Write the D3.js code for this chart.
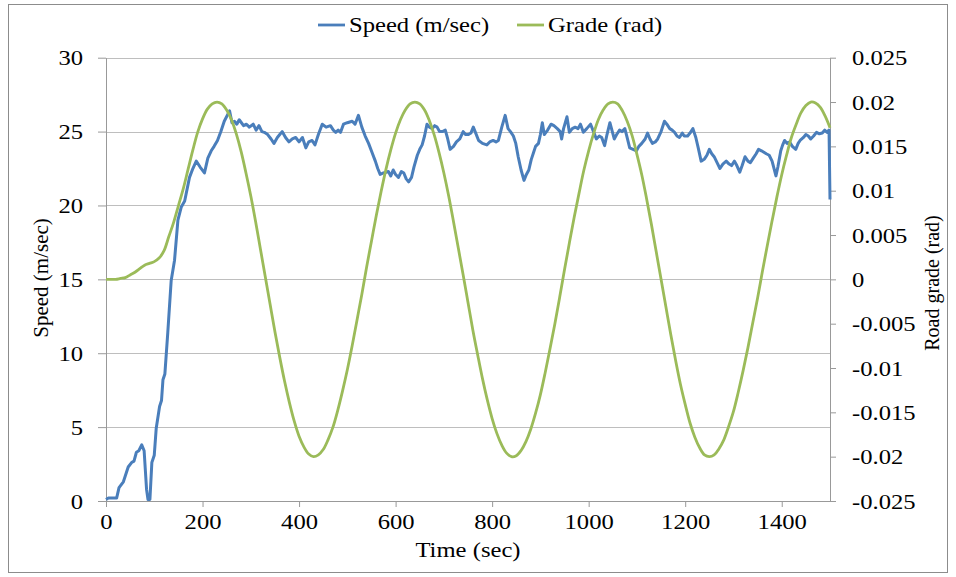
<!DOCTYPE html>
<html><head><meta charset="utf-8">
<script src="https://cdn.jsdelivr.net/npm/d3@7"></script>
<style>
html,body{margin:0;padding:0;background:#fff;}
svg text{font-family:"Liberation Serif","Times New Roman",serif;fill:#000;}
.sx{transform-box:fill-box;transform:scaleX(1.12);}
.sx.end{transform-origin:right center;}
.sx.mid{transform-origin:center center;}
.sx.start{transform-origin:left center;}
</style></head><body>
<svg id="c" width="956" height="577"></svg>
<script>
// ---- data ----
const speedTime = [0,5,12,22,27,36,46,53,58,63,68,74,79,84,87,91,95,100,104,111,115,118,122,128,135,142,149,156,163,173,180,187,195,204,211,218,224,231,238,245,256,261,266,271,276,285,291,297,305,311,317,323,328,335,342,348,355,360,365,372,379,386,393,400,407,414,420,427,433,440,448,456,465,471,476,481,486,492,500,510,516,523,530,537,544,551,558,563,568,575,585,590,595,600,606,612,617,622,627,633,638,645,650,655,660,665,670,676,681,686,691,697,703,708,713,720,726,733,740,745,751,756,761,766,772,780,789,795,802,808,813,820,827,833,838,844,849,854,860,866,871,876,881,886,890,896,900,904,908,915,922,928,935,941,944,948,955,960,966,972,978,983,989,996,1004,1010,1016,1022,1027,1033,1038,1044,1049,1053,1058,1064,1069,1075,1079,1085,1092,1099,1104,1110,1117,1122,1127,1132,1138,1143,1150,1157,1162,1168,1173,1178,1183,1188,1194,1198,1205,1210,1216,1222,1227,1233,1240,1245,1250,1255,1260,1266,1272,1278,1285,1291,1296,1302,1307,1313,1318,1324,1330,1335,1341,1347,1352,1358,1363,1368,1374,1380,1388,1392,1398,1402,1406,1411,1416,1422,1429,1434,1438,1445,1450,1455,1460,1466,1472,1478,1484,1489,1494,1498,1500];
const speedVals = [0.1,0.2,0.2,0.2,0.9,1.3,2.3,2.6,2.7,3.3,3.4,3.8,3.4,0.8,0.1,0.1,2.6,3.1,4.9,6.4,6.8,8.2,8.6,11.4,14.9,16.3,19.0,19.9,20.3,21.9,22.5,23.0,22.6,22.2,23.2,23.7,24.0,24.4,25.0,25.7,26.4,25.6,25.7,25.5,25.8,25.4,25.5,25.3,25.5,25.1,25.4,25.0,24.95,24.8,24.5,24.2,24.6,24.8,25.0,24.6,24.3,24.5,24.6,24.3,24.6,23.9,24.3,24.4,24.1,24.8,25.5,25.3,25.4,25.1,24.95,25.1,24.95,25.5,25.6,25.7,25.5,26.1,25.3,24.7,24.2,23.6,23.0,22.5,22.1,22.2,22.3,22.0,22.4,22.1,21.9,22.3,22.2,21.8,21.6,21.9,22.6,23.4,23.8,24.1,24.7,25.5,25.3,25.2,25.4,25.3,25.0,25.0,25.1,24.5,23.8,24.0,24.3,24.5,25.0,24.8,24.8,24.9,25.3,24.9,24.4,24.2,24.1,24.3,24.4,24.3,24.4,25.3,26.1,25.2,25.0,24.7,24.2,23.3,22.4,21.7,22.1,22.4,23.1,23.6,24.0,24.2,24.8,25.6,24.8,25.1,25.5,25.4,25.2,25.0,24.5,25.2,26.0,24.95,25.2,25.3,25.2,25.5,24.95,25.2,25.5,25.0,24.5,24.7,24.6,24.05,24.8,25.6,25.0,24.5,24.8,25.1,25.0,25.2,24.7,23.9,23.8,23.7,24.0,24.2,24.5,24.9,24.5,24.2,24.3,24.5,25.0,25.7,25.5,25.2,25.1,24.95,24.7,24.6,24.9,24.7,24.7,24.9,25.2,24.6,23.9,23.0,23.15,23.4,23.8,23.5,23.3,22.9,22.5,22.8,23.0,22.8,22.7,23.0,22.7,22.25,22.7,23.3,23.0,22.9,23.2,23.5,23.8,23.7,23.6,23.5,23.4,23.0,22.0,22.6,23.7,24.1,24.4,24.2,24.3,24.0,23.8,24.2,24.4,24.6,24.8,24.7,24.5,24.7,24.95,24.85,24.9,25.1,24.95,25.1,20.4];

const gradeStep = 10; // seconds between grade samples
const gradeVals = [
 0, 0, 0, 0.0001, 0.0002, 0.0005, 0.0008, 0.0012, 0.0016, 0.0018,
 0.0020, 0.0024, 0.0032, 0.0048, 0.0064, 0.0083, 0.0102, 0.0124, 0.0146, 0.0166,
 0.0181, 0.0192, 0.0198, 0.0200, 0.0198, 0.0191, 0.0180, 0.0164, 0.0144, 0.0120,
 0.0094, 0.0065, 0.0034, 0.0003, -0.0028, -0.0059, -0.0088, -0.0115, -0.0139, -0.0160,
 -0.0177, -0.0189, -0.0197, -0.0200, -0.0198, -0.0192, -0.0181, -0.0167, -0.0148, -0.0126,
 -0.0102, -0.0075, -0.0046, -0.0017, 0.0014, 0.0043, 0.0072, 0.0099, 0.0124, 0.0146,
 0.0165, 0.0180, 0.0191, 0.0198, 0.0200, 0.0198, 0.0191, 0.0179, 0.0163, 0.0143,
 0.0120, 0.0094, 0.0065, 0.0035, 0.0005, -0.0026, -0.0057, -0.0085, -0.0112, -0.0136,
 -0.0157, -0.0174, -0.0187, -0.0196, -0.0200, -0.0199, -0.0193, -0.0183, -0.0169, -0.0151,
 -0.0130, -0.0105, -0.0078, -0.0050, -0.0020, 0.0011, 0.0041, 0.0070, 0.0097, 0.0123,
 0.0145, 0.0164, 0.0180, 0.0191, 0.0198, 0.0200, 0.0198, 0.0190, 0.0178, 0.0162,
 0.0141, 0.0118, 0.0091, 0.0062, 0.0031, 0.0000, -0.0031, -0.0062, -0.0091, -0.0118,
 -0.0141, -0.0162, -0.0178, -0.0190, -0.0198, -0.0200, -0.0198, -0.0191, -0.0181, -0.0166,
 -0.0149, -0.0127, -0.0103, -0.0077, -0.0049, -0.0021, 0.0009, 0.0038, 0.0066, 0.0093,
 0.0118, 0.0140, 0.0160, 0.0175, 0.0188, 0.0196, 0.0200, 0.0199, 0.0194, 0.0184,
 0.0171];

const xTicks = [0,200,400,600,800,1000,1200,1400];
const speedTicks = [0,5,10,15,20,25,30];
const gradeTicks = [-0.025,-0.02,-0.015,-0.01,-0.005,0,0.005,0.01,0.015,0.02,0.025];
const gradeTickLabels = ["-0.025","-0.02","-0.015","-0.01","-0.005","0","0.005","0.01","0.015","0.02","0.025"];
const seriesNames = ["Speed (m/sec)","Grade (rad)"];
const seriesColors = ["#4A7EBB","#9BBB59"];

// ---- chart ----
const svg = d3.select("#c");
svg.append("rect").attr("width",956).attr("height",577).attr("fill","#fff");
svg.append("rect").attr("x",8.5).attr("y",4.5).attr("width",939).attr("height",568)
  .attr("fill","none").attr("stroke","#8c8c8c").attr("stroke-width",1);

const L=106, R=830, T=57.7, B=501;
const x = d3.scaleLinear().domain([0,1500]).range([L,R]);
const yL = d3.scaleLinear().domain([0,30]).range([B,T]);
const yR = d3.scaleLinear().domain([-0.025,0.025]).range([B,T]);

// grid
svg.append("g").selectAll("line").data(speedTicks.filter(d=>d>0)).join("line")
  .attr("x1",L).attr("x2",R).attr("y1",d=>Math.round(yL(d))+0.5).attr("y2",d=>Math.round(yL(d))+0.5)
  .attr("stroke","#BEBEBE").attr("stroke-width",1);

const axisColor="#999";
function styleAxis(g){
  g.select(".domain").attr("stroke",axisColor);
  g.selectAll(".tick line").attr("stroke",axisColor);
  g.selectAll("text").attr("font-size",22).attr("font-family",null).attr("fill","#000");
}
const gl = svg.append("g").attr("transform",`translate(${L},0)`)
  .call(d3.axisLeft(yL).tickValues(speedTicks).tickSize(8).tickSizeOuter(0).tickPadding(15).tickFormat(d3.format("d")));
styleAxis(gl); gl.selectAll("text").attr("class","sx end");

const gr = svg.append("g").attr("transform",`translate(${R},0)`)
  .call(d3.axisRight(yR).tickValues(gradeTicks).tickSize(6).tickSizeOuter(0).tickPadding(16)
    .tickFormat((d,i)=>gradeTickLabels[i]));
styleAxis(gr); gr.selectAll("text").attr("class","sx start");

const gb = svg.append("g").attr("transform",`translate(0,${B})`)
  .call(d3.axisBottom(x).tickValues(xTicks).tickSize(6).tickSizeOuter(0).tickPadding(6).tickFormat(d3.format("d")));
styleAxis(gb); gb.selectAll("text").attr("class","sx mid");
gb.select(".domain").attr("d",`M${L},0.5H${R}`);

// lines
const speedData = speedTime.map((t,i)=>[t,speedVals[i]]);
const gradeData = gradeVals.map((g,i)=>[i*gradeStep,g]);
svg.append("path").datum(speedData)
  .attr("d",d3.line().x(d=>x(d[0])).y(d=>yL(d[1])).curve(d3.curveLinear))
  .attr("fill","none").attr("stroke",seriesColors[0]).attr("stroke-width",3).attr("stroke-linejoin","round");
svg.append("path").datum(gradeData)
  .attr("d",d3.line().x(d=>x(d[0])).y(d=>yR(d[1])).curve(d3.curveCatmullRom.alpha(0.5)))
  .attr("fill","none").attr("stroke",seriesColors[1]).attr("stroke-width",2.8);

// titles
svg.append("text").attr("x",468).attr("y",557).attr("text-anchor","middle").attr("font-size",22)
  .attr("class","sx mid").text("Time (sec)");
svg.append("text").attr("transform","translate(48,278) rotate(-90)").attr("text-anchor","middle")
  .attr("font-size",21).text("Speed (m/sec)");
svg.append("text").attr("transform","translate(939,283) rotate(-90)").attr("text-anchor","middle")
  .attr("font-size",20).text("Road grade (rad)");

// legend
const legX=[318,517];
seriesNames.forEach((n,i)=>{
  svg.append("line").attr("x1",legX[i]).attr("x2",legX[i]+27).attr("y1",25).attr("y2",25)
    .attr("stroke",seriesColors[i]).attr("stroke-width",2.8);
  svg.append("text").attr("x",legX[i]+31).attr("y",32).attr("font-size",22)
    .attr("class","sx start").text(n);
});
</script>
</body></html>
